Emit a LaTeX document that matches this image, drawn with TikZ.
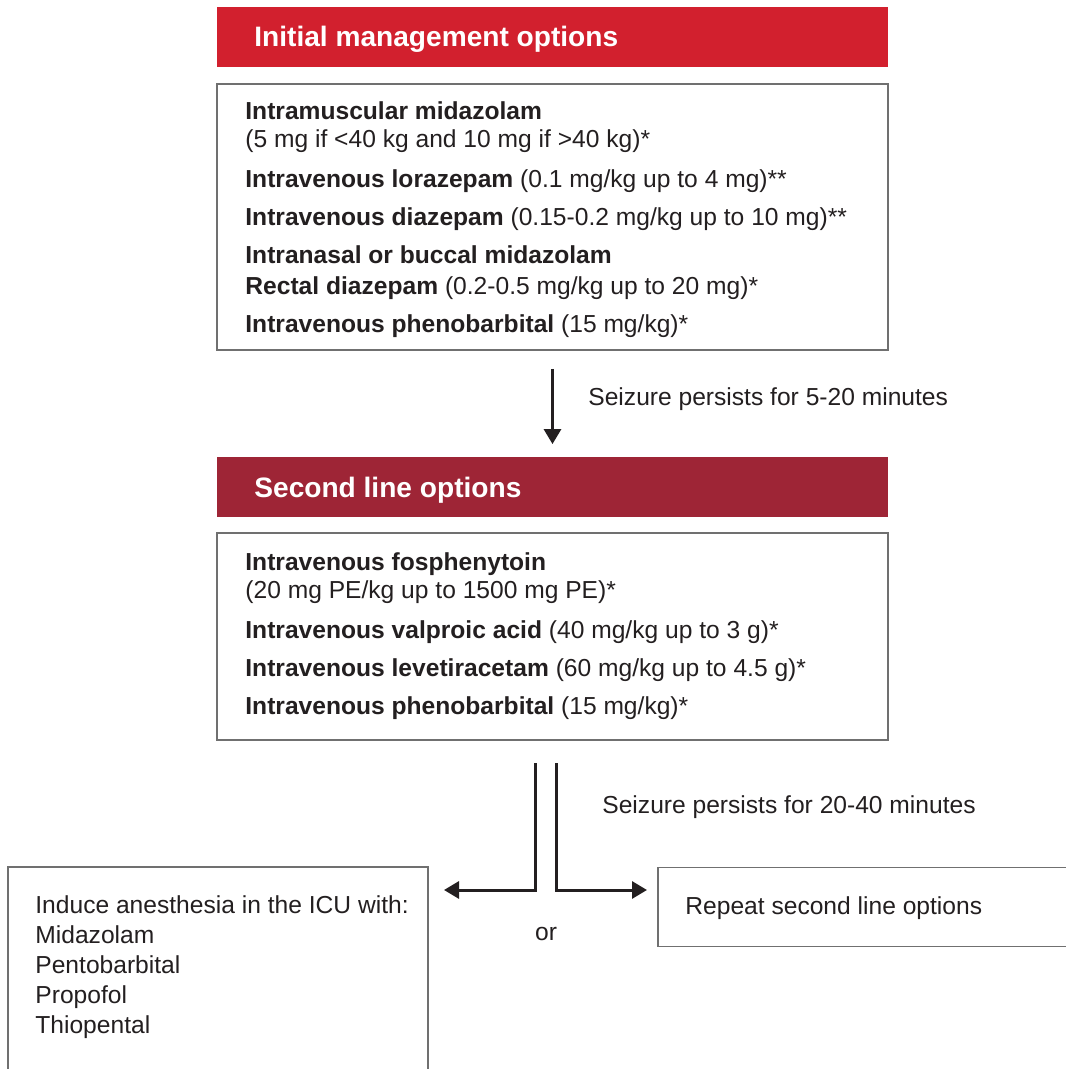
\documentclass[tikz,border=0pt]{standalone}
\usepackage{fontspec}
\setmainfont{Liberation Sans}
\usetikzlibrary{arrows.meta}
\definecolor{hdrred}{HTML}{D2202E}
\definecolor{hdrdark}{HTML}{9E2536}
\definecolor{ink}{HTML}{231F20}
\definecolor{rulegray}{HTML}{707070}
\tikzset{
  hdr/.style={minimum width=335.5pt, minimum height=30pt, inner sep=0pt},
  box/.style={draw=rulegray, line width=0.75pt, inner sep=0pt},
  txt/.style={anchor=base west, inner sep=0pt, text=ink, font=\fontsize{12.3}{14}\selectfont},
  hdrtxt/.style={anchor=base west, inner sep=0pt, text=white, font=\fontsize{14.05}{16}\selectfont\bfseries},
  arr/.style={-{Triangle[length=7.5pt,width=8.5pt]}, line width=1.5pt, draw=ink},
}
\begin{document}
\begin{tikzpicture}[x=0.5pt,y=-0.5pt]
    \useasboundingbox (0,0) rectangle (1065,1069);

    % first step
    \node[hdr, fill=hdrred] (inithdr) at (552.5,37) {};
    \node[hdrtxt] (inittitle) at (254,47) {Initial management options};
    \node[box, minimum width=335.5pt, minimum height=133pt] (initbox) at (552.5,217) {};
    \node[txt] (im) at (245,120) {\bfseries Intramuscular midazolam};
    \node[txt] (imdose) at (245,148) {(5 mg if <40 kg and 10 mg if >40 kg)*};
    \node[txt] (lora) at (245,188) {{\bfseries Intravenous lorazepam} (0.1 mg/kg up to 4 mg)**};
    \node[txt] (diaz) at (245,226) {{\bfseries Intravenous diazepam} (0.15-0.2 mg/kg up to 10 mg)**};
    \node[txt] (nasal) at (245,264) {\bfseries Intranasal or buccal midazolam};
    \node[txt] (rectal) at (245,294) {{\bfseries Rectal diazepam} (0.2-0.5 mg/kg up to 20 mg)*};
    \node[txt] (pheno) at (245,332) {{\bfseries Intravenous phenobarbital} (15 mg/kg)*};

    % second step
    \node[hdr, fill=hdrdark] (secondhdr) at (552.5,486.5) {};
    \node[hdrtxt] (secondtitle) at (254,497) {Second line options};
    \node[box, minimum width=335.5pt, minimum height=103.5pt] (secondbox) at (552.5,636.5) {};
    \node[txt] (fos) at (245,570) {\bfseries Intravenous fosphenytoin};
    \node[txt] (fosdose) at (245,598) {(20 mg PE/kg up to 1500 mg PE)*};
    \node[txt] (valp) at (245,638) {{\bfseries Intravenous valproic acid} (40 mg/kg up to 3 g)*};
    \node[txt] (leve) at (245,676) {{\bfseries Intravenous levetiracetam} (60 mg/kg up to 4.5 g)*};
    \node[txt] (pheno2) at (245,714) {{\bfseries Intravenous phenobarbital} (15 mg/kg)*};

    \draw[arr] ([yshift=-9pt]initbox.south) -- ([yshift=6pt]secondhdr.north);
    \node[txt] (persist1) at (588,405) {Seizure persists for 5-20 minutes};

    % third step
    \node[box, minimum width=210pt, minimum height=115pt] (anesbox) at (218,982) {};
    \node[txt] (anes) at (35,913) {Induce anesthesia in the ICU with:};
    \node[txt] (anes1) at (35,943) {Midazolam};
    \node[txt] (anes2) at (35,973) {Pentobarbital};
    \node[txt] (anes3) at (35,1003) {Propofol};
    \node[txt] (anes4) at (35,1033) {Thiopental};
    \node[box, minimum width=211pt, minimum height=39.5pt] (repeatbox) at (869,907) {};
    \node[txt] (repeat) at (685,914) {Repeat second line options};

    \coordinate (splitL) at (535,763);
    \coordinate (splitR) at (556,763);
    \coordinate (tipL) at (444,890);
    \coordinate (tipR) at (647,890);
    \draw[arr] (splitL) |- (tipL);
    \draw[arr] (splitR) |- (tipR);
    \node[txt] (persist2) at (602,813) {Seizure persists for 20-40 minutes};
    \node[txt, anchor=base] (or) at (546,940) {or};
\end{tikzpicture}
\end{document}
